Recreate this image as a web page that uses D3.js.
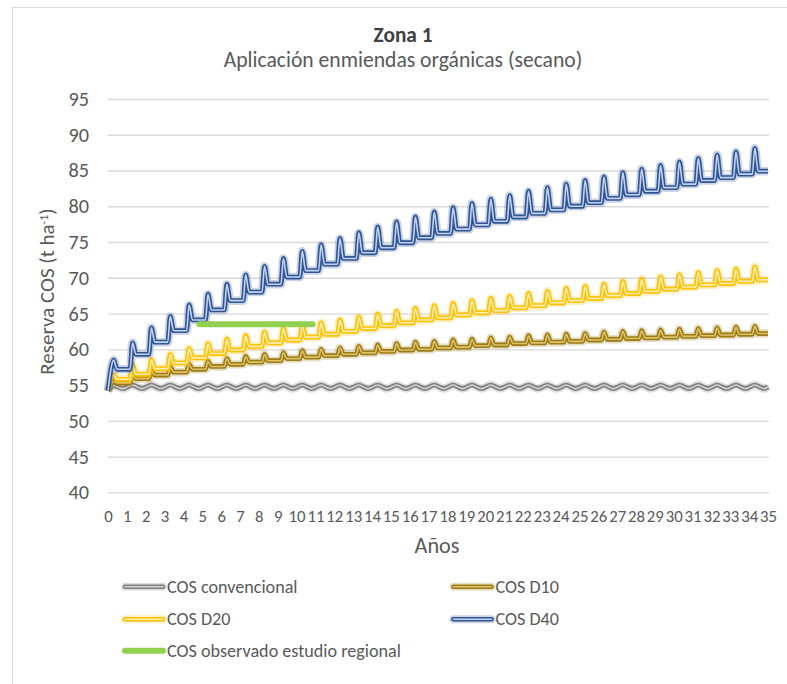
<!DOCTYPE html>
<html>
<head>
<meta charset="utf-8">
<script src="https://cdn.jsdelivr.net/npm/d3@7"></script>
<style>
  body { margin: 0; background: #fff; }
  svg { display: block; }
  text { font-family: Carlito, Calibri, Lato, "Open Sans", sans-serif; fill: #595959; }
</style>
</head>
<body>
<svg id="chart" width="787" height="684"></svg>
<script>
// ---- data ---------------------------------------------------------------
const yearTicks = d3.range(0, 36);                 // 0 … 35
const yTicks = [40, 45, 50, 55, 60, 65, 70, 75, 80, 85, 90, 95];
const startValue = 54.2;                           // COS at year 0 (t ha-1)

// conventional management: yearly high / low
const convHigh = [54.9,55.0,55.0,55.0,55.0,55.0,55.0,55.0,55.0,55.0,55.0,55.0,55.0,55.0,55.0,55.0,55.0,55.0,
                  55.0,55.0,55.0,55.0,55.0,55.0,55.0,55.0,55.0,55.0,55.0,55.0,55.0,55.0,55.0,55.0,55.0];
const convLow  = [54.5,54.5,54.5,54.5,54.5,54.5,54.5,54.5,54.5,54.5,54.5,54.5,54.5,54.5,54.5,54.5,54.5,54.5,
                  54.5,54.5,54.5,54.5,54.5,54.5,54.5,54.5,54.5,54.5,54.5,54.5,54.5,54.5,54.5,54.5,54.5];

// amendment doses: peak after each application and the level it settles to
const d10Peak = [55.5,56.4,57.0,57.5,57.9,58.3,58.7,59.0,59.3,59.5,59.8,60.0,60.2,60.4,60.6,60.8,61.0,61.1,
                 61.3,61.4,61.6,61.7,61.9,62.0,62.1,62.2,62.4,62.5,62.6,62.7,62.8,62.9,63.0,63.1,63.2];
const d10Base = [55.3,55.9,56.4,56.8,57.2,57.6,57.9,58.2,58.4,58.7,58.9,59.1,59.3,59.5,59.7,59.9,60.0,60.2,
                 60.3,60.5,60.6,60.8,60.9,61.0,61.1,61.3,61.4,61.5,61.6,61.7,61.8,61.9,62.0,62.1,62.2];

const d20Peak = [56.4,57.8,58.5,59.3,60.1,60.8,61.4,61.9,62.4,62.9,63.3,63.7,64.1,64.5,64.9,65.3,65.7,66.1,
                 66.4,66.8,67.1,67.4,67.8,68.1,68.5,68.8,69.1,69.5,69.8,70.1,70.4,70.7,71.0,71.2,71.5];
const d20Base = [55.8,56.5,57.3,58.1,58.8,59.4,59.9,60.4,60.9,61.3,61.7,62.1,62.5,62.9,63.3,63.7,64.1,64.4,
                 64.8,65.1,65.4,65.8,66.1,66.5,66.8,67.1,67.5,67.8,68.1,68.4,68.7,69.0,69.2,69.5,69.7];

const d40Peak = [58.5,60.9,63.0,64.6,66.2,67.7,69.1,70.4,71.6,72.7,73.7,74.6,75.5,76.3,77.1,77.8,78.5,79.2,
                 79.8,80.4,81.0,81.5,82.1,82.6,83.1,83.6,84.1,84.7,85.2,85.7,86.2,86.7,87.2,87.6,88.1];
const d40Base = [57.2,59.3,61.0,62.6,64.1,65.5,66.8,68.0,69.1,70.1,71.0,71.9,72.7,73.5,74.2,74.9,75.6,76.2,
                 76.8,77.4,77.9,78.5,79.0,79.5,80.0,80.5,81.1,81.6,82.1,82.6,83.1,83.6,84.0,84.5,84.9];

// regional field study
const observedYears = [4.85, 10.85];
const observedValue = 63.5;

const seriesNames = ["COS convencional", "COS D10", "COS D20", "COS D40", "COS observado estudio regional"];

// ---- helpers --------------------------------------------------------------
// monthly-style trace: level, sharp rise at the application, decay to new level
function amendmentTrace(peaks, bases) {
  const pts = [[0, startValue]];
  peaks.forEach((p, n) => {
    if (n > 0) pts.push([n + 0.17, bases[n - 1]]);
    pts.push([n + 0.3, p]);
    pts.push([n + 0.48, bases[n]]);
  });
  pts.push([35, bases[bases.length - 1]]);
  return pts;
}
function conventionalTrace() {
  const pts = [[0, startValue]];
  convHigh.forEach((h, n) => {
    pts.push([n + 0.3, h]);
    pts.push([n + 0.8, convLow[n]]);
  });
  pts.push([35, (convHigh[34] + convLow[34]) / 2]);
  return pts;
}
// font size that makes `node` span `target` px
function sizeFor(node, target) {
  const fs = parseFloat(getComputedStyle(node).fontSize);
  return fs * target / node.getComputedTextLength();
}
function fitWidth(sel, target) {
  sel.style("font-size", sizeFor(sel.node(), target) + "px");
}

// ---- layout ---------------------------------------------------------------
const svg = d3.select("#chart");
const x = d3.scaleLinear().domain([0, 35]).range([108, 768]);
const y = d3.scaleLinear().domain([40, 95]).range([492.3, 99]);

// chart frame
svg.append("path").attr("d", "M12.5,684 V7.5 H787")
  .attr("fill", "none").attr("stroke", "#d9d9d9").attr("stroke-width", 1);

// titles
const t1 = svg.append("text").attr("x", 403).attr("y", 42).attr("text-anchor", "middle")
  .style("font-size", "17px").style("font-weight", "bold").style("fill", "#404040")
  .text("Zona 1");
fitWidth(t1, 59);
const t2 = svg.append("text").attr("x", 403).attr("y", 67).attr("text-anchor", "middle")
  .style("font-size", "17px").text("Aplicación enmiendas orgánicas (secano)");
fitWidth(t2, 359);

// gridlines
svg.append("g").attr("transform", `translate(${x(0)},0)`)
  .call(d3.axisLeft(y).tickValues(yTicks).tickSize(-(x(35) - x(0) + 1)).tickFormat(""))
  .call(g => g.select(".domain").remove())
  .call(g => g.selectAll("line").attr("stroke", "#d9d9d9").attr("stroke-width", 1.3));

// y axis labels
const yAxis = svg.append("g").attr("transform", `translate(${x(0)},0)`)
  .call(d3.axisLeft(y).tickValues(yTicks).tickSize(0).tickPadding(19))
  .call(g => g.select(".domain").remove());
yAxis.attr("font-family", null).attr("font-size", 17);
const yLab = yAxis.selectAll("text").attr("fill", "#595959");
const yFs = sizeFor(yLab.nodes()[yLab.size() - 1], 20.5);   // "95"
yAxis.attr("font-size", yFs);

// x axis labels
const xAxis = svg.append("g").attr("transform", `translate(0,${y(40)})`)
  .call(d3.axisBottom(x).tickValues(yearTicks).tickSize(0).tickPadding(18).tickFormat(d3.format("d")))
  .call(g => g.select(".domain").remove());
xAxis.attr("font-family", null).attr("font-size", 15);
const xLab = xAxis.selectAll("text").attr("fill", "#595959");
const xFs = sizeFor(xLab.nodes()[10], 17);                   // "10"
xAxis.attr("font-size", xFs);

// axis titles
const xt = svg.append("text").attr("x", 437).attr("y", 553).attr("text-anchor", "middle")
  .style("font-size", "17px").text("Años");
fitWidth(xt, 45);
const yt = svg.append("text").attr("transform", "translate(54,291.5) rotate(-90)").attr("text-anchor", "middle")
  .style("font-size", "18px");
yt.append("tspan").text("Reserva COS (t ha");
yt.append("tspan").attr("dy", -6).style("font-size", "12px").text("-1");
yt.append("tspan").attr("dy", 6).text(")");
fitWidth(yt, 168);

// ---- series ---------------------------------------------------------------
const line = d3.line().x(d => x(d[0])).y(d => y(d[1])).curve(d3.curveMonotoneX);

const styles = [
  { name: seriesNames[0], data: conventionalTrace(), outer: "#7f7f7f", inner: "#d2d2d2" },
  { name: seriesNames[1], data: amendmentTrace(d10Peak, d10Base), outer: "#9c7b12", inner: "#dcc26a" },
  { name: seriesNames[2], data: amendmentTrace(d20Peak, d20Base), outer: "#ffc000", inner: "#fff0b8" },
  { name: seriesNames[3], data: amendmentTrace(d40Peak, d40Base), outer: "#2f5597", inner: "#c5d3ee" }
];

const plot = svg.append("g");
styles.forEach(s => {
  const g = plot.append("g");
  g.append("path").datum(s.data).attr("d", line).attr("fill", "none")
    .attr("stroke", s.outer).attr("stroke-opacity", 0.25).attr("stroke-width", 8.5).attr("stroke-linejoin", "round");
  g.append("path").datum(s.data).attr("d", line).attr("fill", "none")
    .attr("stroke", s.outer).attr("stroke-width", 4.8).attr("stroke-linejoin", "round");
  g.append("path").datum(s.data).attr("d", line).attr("fill", "none")
    .attr("stroke", s.inner).attr("stroke-width", 1.6).attr("stroke-linejoin", "round");
});

// observed value from the regional study
plot.append("line")
  .attr("x1", x(observedYears[0])).attr("x2", x(observedYears[1]))
  .attr("y1", y(observedValue)).attr("y2", y(observedValue))
  .attr("stroke", "#92d050").attr("stroke-width", 6).attr("stroke-linecap", "round");

// ---- legend ---------------------------------------------------------------
const legendItems = [
  { name: seriesNames[0], col: 0, row: 0, st: styles[0] },
  { name: seriesNames[1], col: 1, row: 0, st: styles[1] },
  { name: seriesNames[2], col: 0, row: 1, st: styles[2] },
  { name: seriesNames[3], col: 1, row: 1, st: styles[3] },
  { name: seriesNames[4], col: 0, row: 2, st: null }
];
const colX = [125, 453.5], rowY = [586.7, 619.3, 650.7];
const legend = svg.append("g");
let legendTexts = [];
legendItems.forEach(it => {
  const gx = colX[it.col], gy = rowY[it.row];
  const g = legend.append("g").attr("transform", `translate(${gx},${gy})`);
  if (it.st) {
    g.append("line").attr("x1", 0).attr("x2", 38).attr("stroke", it.st.outer).attr("stroke-opacity", 0.25)
      .attr("stroke-width", 8).attr("stroke-linecap", "round");
    g.append("line").attr("x1", 0).attr("x2", 38).attr("stroke", it.st.outer)
      .attr("stroke-width", 4.6).attr("stroke-linecap", "round");
    g.append("line").attr("x1", 0).attr("x2", 38).attr("stroke", it.st.inner)
      .attr("stroke-width", 1.6).attr("stroke-linecap", "round");
  } else {
    g.append("line").attr("x1", 0).attr("x2", 38).attr("stroke", "#92d050")
      .attr("stroke-width", 6).attr("stroke-linecap", "round");
  }
  legendTexts.push(g.append("text").attr("x", 42).attr("y", 6).style("font-size", "17px").text(it.name));
});
// size legend labels so "COS convencional" spans its measured width
const legFs = sizeFor(legendTexts[0].node(), 130.6);
legendTexts.forEach(t => t.style("font-size", legFs + "px"));
</script>
</body>
</html>
